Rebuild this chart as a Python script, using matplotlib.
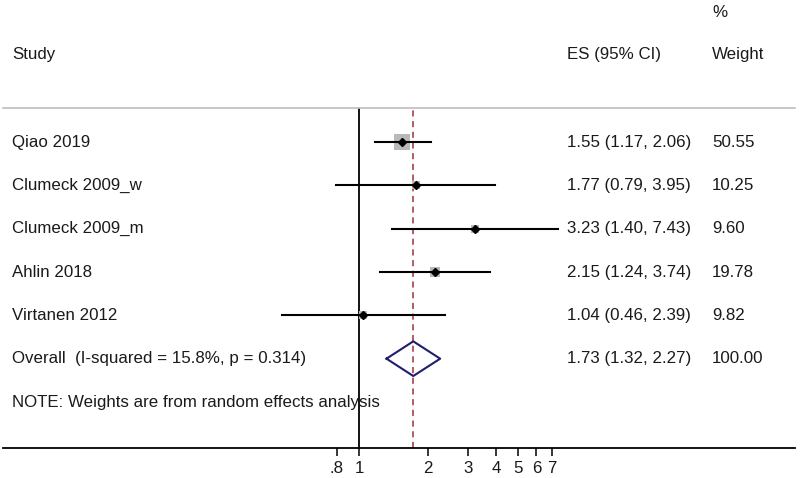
import numpy as np
import matplotlib
matplotlib.use('Agg')
import matplotlib.pyplot as plt
import matplotlib.transforms as mtransforms

plt.rcParams['font.family'] = ['Liberation Sans', 'DejaVu Sans']

studies = ['Qiao 2019', 'Clumeck 2009_w', 'Clumeck 2009_m', 'Ahlin 2018', 'Virtanen 2012']
es = [1.55, 1.77, 3.23, 2.15, 1.04]
lo = [1.17, 0.79, 1.40, 1.24, 0.46]
hi = [2.06, 3.95, 7.43, 3.74, 2.39]
weights = [50.55, 10.25, 9.60, 19.78, 9.82]

overall_label = 'Overall  (I-squared = 15.8%, p = 0.314)'
overall_es, overall_lo, overall_hi = 1.73, 1.32, 2.27
note = 'NOTE: Weights are from random effects analysis'

ticks = [0.8, 1, 2, 3, 4, 5, 6, 7]
tick_labels = ['.8', '1', '2', '3', '4', '5', '6', '7']

W, H = 800, 478
fig = plt.figure(figsize=(W / 100, H / 100), dpi=100)
ax = fig.add_axes([3 / W, 1 - 447.5 / H, 792 / W, 339.5 / H])
ax.set_xscale('log')
ax.set_xlim(10 ** (-356 / 228), 10 ** (436 / 228))
ax.set_ylim(-7.05, 0.785)

txt_color = '#1a1a1a'
fs = 12.2

# reference lines
ax.axvline(1, color='black', lw=1.3, zorder=1)
ax.axvline(overall_es, color='#9e2f3c', lw=1.1, ls=(0, (4, 3)), zorder=1)

rows = -np.arange(len(studies))
for i, y in enumerate(rows):
    side_px = 16.5 * np.sqrt(weights[i] / max(weights))
    side_pt = side_px * 0.72
    ax.scatter(es[i], y, marker='s', s=side_pt ** 2, color='#b9b9b9', lw=0, zorder=2)
    ax.plot([lo[i], hi[i]], [y, y], color='black', lw=1.5, zorder=3)
    ax.plot(es[i], y, marker='D', ms=3.8, color='black', zorder=4)

# overall diamond
yo = -len(studies)
dx = [overall_lo, overall_es, overall_hi, overall_es, overall_lo]
dy = [yo, yo + 0.4, yo, yo - 0.4, yo]
ax.plot(dx, dy, color='#1f1f6b', lw=1.5, zorder=3)

# axes styling
for s in ['left', 'right']:
    ax.spines[s].set_visible(False)
ax.spines['top'].set_color('#bdbdbd')
ax.spines['top'].set_linewidth(1.2)
ax.spines['bottom'].set_linewidth(1.3)
ax.set_yticks([])
ax.set_xticks(ticks)
ax.set_xticklabels(tick_labels, fontsize=fs, color=txt_color)
ax.xaxis.set_minor_locator(matplotlib.ticker.NullLocator())
ax.tick_params(axis='x', direction='out', length=5.5, width=1.1, pad=4)

# text columns
tr = mtransforms.blended_transform_factory(fig.transFigure, ax.transData)
x_study, x_es, x_w = 12 / W, 567 / W, 712 / W

ax.text(x_study, 2.03, 'Study', transform=tr, fontsize=fs, va='center', color=txt_color, clip_on=False)
ax.text(x_es, 2.03, 'ES (95% CI)', transform=tr, fontsize=fs, va='center', color=txt_color, clip_on=False)
ax.text(x_w, 3.0, '%', transform=tr, fontsize=fs, va='center', color=txt_color, clip_on=False)
ax.text(x_w, 2.03, 'Weight', transform=tr, fontsize=fs, va='center', color=txt_color, clip_on=False)

for i, y in enumerate(rows):
    ax.text(x_study, y, studies[i], transform=tr, fontsize=fs, va='center', color=txt_color)
    ax.text(x_es, y, '%.2f (%.2f, %.2f)' % (es[i], lo[i], hi[i]), transform=tr,
            fontsize=fs, va='center', color=txt_color)
    ax.text(x_w, y, '%.2f' % weights[i], transform=tr, fontsize=fs, va='center', color=txt_color)

ax.text(x_study, yo, overall_label, transform=tr, fontsize=fs, va='center', color=txt_color)
ax.text(x_es, yo, '%.2f (%.2f, %.2f)' % (overall_es, overall_lo, overall_hi), transform=tr,
        fontsize=fs, va='center', color=txt_color)
ax.text(x_w, yo, '100.00', transform=tr, fontsize=fs, va='center', color=txt_color)
ax.text(x_study, yo - 1, note, transform=tr, fontsize=fs, va='center', color=txt_color)

fig.savefig('out.png', dpi=100, facecolor='white')
